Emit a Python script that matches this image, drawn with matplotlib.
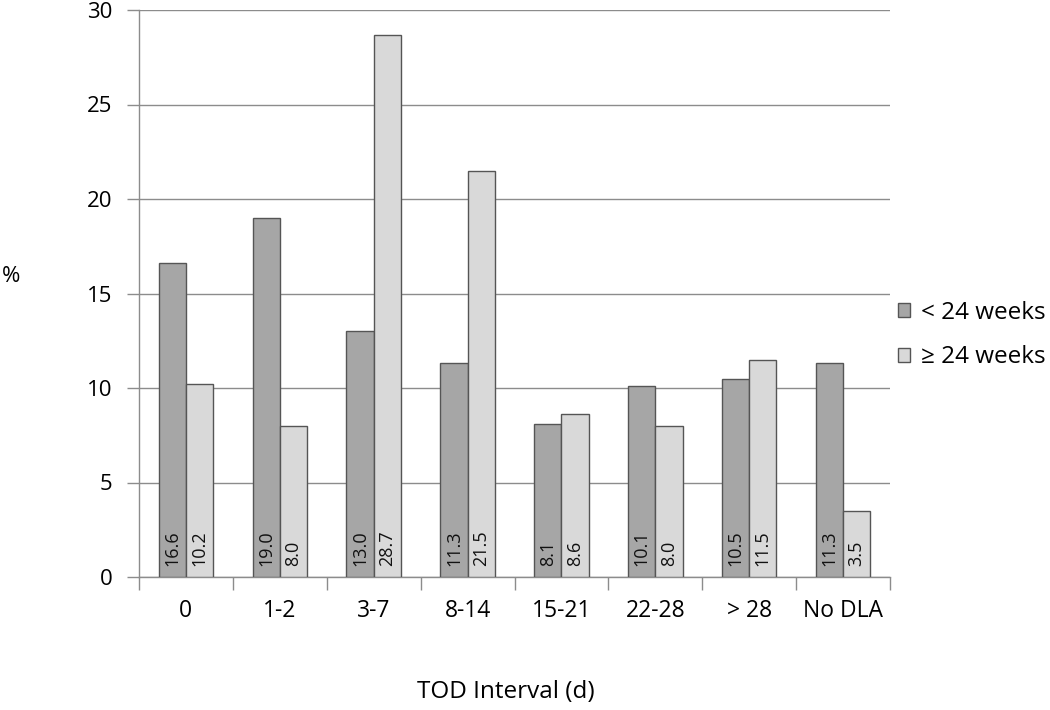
import matplotlib
matplotlib.use("Agg")
import matplotlib.pyplot as plt
import numpy as np
from matplotlib.patches import Patch

categories = ["0", "1-2", "3-7", "8-14", "15-21", "22-28", "> 28", "No DLA"]
under24 = [16.6, 19.0, 13.0, 11.3, 8.1, 10.1, 10.5, 11.3]
over24 = [10.2, 8.0, 28.7, 21.5, 8.6, 8.0, 11.5, 3.5]
series_names = ["< 24 weeks", "\u2265 24 weeks"]
yticks = [0, 5, 10, 15, 20, 25, 30]

plt.rcParams['font.family'] = ['Open Sans', 'DejaVu Sans']

fig = plt.figure(figsize=(10.5, 7.1), dpi=100)
ax = fig.add_axes([139/1050, (710-577)/710, (890-139)/1050, (577-10)/710])

x = np.arange(len(categories))
w = 0.29
dark = "#a6a6a6"
light = "#d9d9d9"
edge = "#555555"
b1 = ax.bar(x - w/2, under24, w, color=dark, edgecolor=edge, linewidth=1, zorder=3)
b2 = ax.bar(x + w/2, over24, w, color=light, edgecolor=edge, linewidth=1, zorder=3)

for bars, vals in ((b1, under24), (b2, over24)):
    for r, v in zip(bars, vals):
        ax.text(r.get_x() + r.get_width()/2, 0.6, f"{v:.1f}", rotation=90,
                ha="center", va="bottom", fontsize=13, color="#111111", zorder=4)

ax.set_xlim(-0.5, len(categories) - 0.5)
ax.set_ylim(0, 30)
ax.set_yticks(yticks)
ax.set_yticklabels([str(t) for t in yticks], fontsize=16)
ax.yaxis.grid(True, color="#8c8c8c", linewidth=1, zorder=0)
ax.set_axisbelow(True)

ax.set_xticks(x)
ax.set_xticklabels(categories, fontsize=16.5)
ax.tick_params(axis="x", length=0, pad=16)
ax.set_xticks(np.arange(-0.5, len(categories)), minor=True)
ax.tick_params(axis="x", which="minor", length=9, color="#8c8c8c", width=1)
ax.tick_params(axis="y", length=9, color="#8c8c8c", width=1, pad=10)

for s in ("top", "right"):
    ax.spines[s].set_visible(False)
for s in ("left", "bottom"):
    ax.spines[s].set_color("#8c8c8c")
    ax.spines[s].set_linewidth(1)

fig.text(11/1050, 1 - 277/710, "%", fontsize=16, ha="center", va="center")
fig.text(506/1050, 1 - 692/710, "TOD Interval (d)", fontsize=17.5, ha="center", va="center")

handles = [Patch(facecolor=dark, edgecolor=edge), Patch(facecolor=light, edgecolor=edge)]
fig.legend(handles, series_names, loc="center left", bbox_to_anchor=(888/1050, 1 - 335/710),
           frameon=False, fontsize=17.5, handlelength=0.5, handleheight=0.5,
           handletextpad=0.45, labelspacing=0.85, borderaxespad=0)

fig.savefig("out.png", dpi=100)
